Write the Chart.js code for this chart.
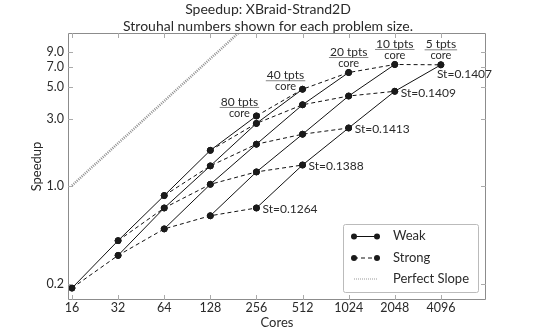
<!DOCTYPE html>
<html>
<head>
<meta charset="utf-8">
<script src="https://cdn.jsdelivr.net/npm/chart.js@4.4.1/dist/chart.umd.min.js"></script>
<style>
  html, body { margin: 0; padding: 0; background: #fff; }
  #wrap { width: 540px; height: 334px; }
</style>
</head>
<body>
<div id="wrap"><canvas id="chart" width="540" height="334"></canvas></div>
<script>
// ===== Speedup chart: XBraid-Strand2D =====

// Core counts (x axis, log2 spaced)
const cores = [16, 32, 64, 128, 256, 512, 1024, 2048, 4096];

// Weak scaling runs, one per tpts/core; each starts one core count later
const weak80 = [0.186, 0.405, 0.848, 1.78, 3.13];
const weak40 = [0.318, 0.692, 1.38, 2.77, 4.85];
const weak20 = [0.491, 1.02, 1.97, 3.76, 6.38];
const weak10 = [0.609, 1.25, 2.32, 4.34, 7.28];
const weak5  = [0.692, 1.40, 2.57, 4.69, 7.24];
const weakRuns = [weak80, weak40, weak20, weak10, weak5];
const tptsLabels = ['80', '40', '20', '10', '5'];

// Strouhal number for each problem size (strong scaling runs)
const strouhal = ['0.1264', '0.1388', '0.1413', '0.1409', '0.1407'];

// Perfect slope reference
const perfectCores = [16, 256];
const perfectSpeedup = [1, 16];

// Tick labels
const yTicks = [0.2, 1.0, 3.0, 5.0, 7.0, 9.0];

const FONT = 'Lato, "Open Sans", sans-serif';
const TEXT = '#2a2a2a';
const INK = '#111';

// Weak lines: fixed tpts/core
const weakSets = weakRuns.map((run, w) => ({
    label: 'Weak ' + tptsLabels[w],
    data: run.map((v, j) => ({ x: cores[w + j], y: v })),
    borderColor: INK,
    borderWidth: 1,
    pointRadius: 3,
    pointBackgroundColor: '#1a1a1a',
    pointBorderColor: '#1a1a1a',
    tension: 0
}));

// Strong lines: fixed problem size, k-th point of every weak run
const strongSets = strouhal.map((st, k) => ({
    label: 'Strong ' + st,
    data: weakRuns.map((run, w) => ({ x: cores[w + k], y: run[k] })),
    borderColor: INK,
    borderWidth: 1,
    borderDash: [4, 3],
    pointRadius: 3,
    pointBackgroundColor: '#1a1a1a',
    pointBorderColor: '#1a1a1a',
    tension: 0
}));

const perfectSet = {
    label: 'Perfect Slope',
    data: perfectCores.map((c, i) => ({ x: c, y: perfectSpeedup[i] })),
    borderColor: '#8f8f8f',
    borderWidth: 2.5,
    borderDash: [1, 1.2],
    pointRadius: 0,
    tension: 0
};

// Annotations, frame, titles and legend
const decorPlugin = {
    id: 'decor',
    afterDraw(chart) {
        const ctx = chart.ctx;
        const a = chart.chartArea;
        const xs = chart.scales.x, ys = chart.scales.y;
        ctx.save();
        ctx.setLineDash([]);

        // frame + inward ticks
        ctx.strokeStyle = '#8c8c8c';
        ctx.lineWidth = 1;
        ctx.beginPath();
        ctx.rect(Math.round(a.left) + 0.5, Math.round(a.top) + 0.5,
                 Math.round(a.right - a.left) - 1, Math.round(a.bottom - a.top) - 1);
        ctx.stroke();
        ctx.strokeStyle = '#aaa';
        ctx.beginPath();
        cores.forEach(c => {
            const px = Math.round(xs.getPixelForValue(c)) + 0.5;
            ctx.moveTo(px, a.bottom); ctx.lineTo(px, a.bottom - 5);
            ctx.moveTo(px, a.top); ctx.lineTo(px, a.top + 5);
        });
        yTicks.forEach(v => {
            const py = Math.round(ys.getPixelForValue(v)) + 0.5;
            ctx.moveTo(a.left, py); ctx.lineTo(a.left + 5, py);
            ctx.moveTo(a.right, py); ctx.lineTo(a.right - 5, py);
        });
        ctx.stroke();

        ctx.fillStyle = TEXT;
        ctx.textBaseline = 'middle';

        // Strouhal labels at the end of each strong run
        ctx.font = '12px ' + FONT;
        ctx.textAlign = 'left';
        strongSets.forEach((ds, k) => {
            const last = ds.data[ds.data.length - 1];
            const px = xs.getPixelForValue(last.x);
            const py = ys.getPixelForValue(last.y);
            const last5 = k === strongSets.length - 1;
            ctx.fillText('St=' + strouhal[k], px + (last5 ? -4 : 6), py + (last5 ? 9 : 1.5));
        });

        // tpts/core fractions at the end of each weak run
        ctx.textAlign = 'center';
        weakSets.forEach((ds, w) => {
            const last = ds.data[ds.data.length - 1];
            const px = xs.getPixelForValue(last.x);
            const py = ys.getPixelForValue(last.y);
            const shift = w < 2;
            const cx = px + (shift ? -17 : 0);
            const top = py + (shift ? -14 : -20.5);
            ctx.font = '12px ' + FONT;
            ctx.fillText(tptsLabels[w] + ' tpts', cx, top);
            const tw = ctx.measureText(tptsLabels[w] + ' tpts').width;
            ctx.strokeStyle = '#666';
            ctx.lineWidth = 0.8;
            ctx.beginPath();
            ctx.moveTo(cx - tw / 2 - 1, top + 5.5);
            ctx.lineTo(cx + tw / 2 + 1, top + 5.5);
            ctx.stroke();
            ctx.font = '11px ' + FONT;
            ctx.fillText('core', cx, top + 11.5);
        });

        // titles
        ctx.font = '14px ' + FONT;
        ctx.fillText('Speedup: XBraid-Strand2D', 268, 9.5);
        ctx.fillText('Strouhal numbers shown for each problem size.', 268, 26);
        ctx.font = '13px ' + FONT;
        ctx.fillText('Cores', (a.left + a.right) / 2, 323);
        ctx.save();
        ctx.translate(37, (a.top + a.bottom) / 2);
        ctx.rotate(-Math.PI / 2);
        ctx.fillText('Speedup', 0, 0);
        ctx.restore();

        // legend
        const lx = 343, ly = 224, lw = 135, lh = 68;
        ctx.fillStyle = '#fff';
        ctx.strokeStyle = '#bbb';
        ctx.lineWidth = 1;
        ctx.beginPath();
        ctx.roundRect(lx + 0.5, ly + 0.5, lw, lh, 2);
        ctx.fill();
        ctx.stroke();

        const rows = [
            { text: 'Weak', y: 236, dash: [], marks: true, color: INK, width: 1 },
            { text: 'Strong', y: 257.5, dash: [4, 3], marks: true, color: INK, width: 1 },
            { text: 'Perfect Slope', y: 278.5, dash: [1, 1], marks: false, color: '#999', width: 1 }
        ];
        rows.forEach(r => {
            ctx.strokeStyle = r.color;
            ctx.lineWidth = r.width;
            ctx.setLineDash(r.dash);
            ctx.beginPath();
            ctx.moveTo(354, r.y + 0.5);
            ctx.lineTo(377, r.y + 0.5);
            ctx.stroke();
            ctx.setLineDash([]);
            if (r.marks) {
                ctx.fillStyle = '#1a1a1a';
                [354, 377].forEach(mx => {
                    ctx.beginPath();
                    ctx.arc(mx, r.y + 0.5, 3, 0, Math.PI * 2);
                    ctx.fill();
                });
            }
            ctx.fillStyle = TEXT;
            ctx.textAlign = 'left';
            ctx.font = '13px ' + FONT;
            ctx.fillText(r.text, 393, r.y);
        });

        ctx.restore();
    }
};

const chart = new Chart(document.getElementById('chart').getContext('2d'), {
    type: 'line',
    data: { datasets: [perfectSet, ...weakSets, ...strongSets] },
    options: {
        responsive: false,
        animation: false,
        layout: { padding: { top: 33, right: 54, left: 0, bottom: 0 } },
        plugins: {
            legend: { display: false },
            tooltip: { enabled: false },
            title: { display: false }
        },
        scales: {
            x: {
                type: 'logarithmic',
                min: 15.07,
                max: 8071,
                grid: { display: false, drawTicks: false },
                border: { display: false },
                afterBuildTicks: s => { s.ticks = cores.map(v => ({ value: v })); },
                afterFit: s => { s.height = 34; },
                ticks: {
                    autoSkip: false,
                    maxRotation: 0,
                    padding: 0,
                    color: TEXT,
                    font: { family: FONT, size: 12.5 },
                    callback: v => String(v)
                }
            },
            y: {
                type: 'logarithmic',
                min: 0.153,
                max: 12.2,
                grid: { display: false, drawTicks: false },
                border: { display: false },
                afterBuildTicks: s => { s.ticks = yTicks.map(v => ({ value: v })); },
                afterFit: s => { s.width = 68; },
                ticks: {
                    autoSkip: false,
                    padding: 4,
                    color: TEXT,
                    font: { family: FONT, size: 12.5 },
                    callback: v => Number(v).toFixed(1)
                }
            }
        }
    },
    plugins: [decorPlugin]
});
</script>
</body>
</html>
